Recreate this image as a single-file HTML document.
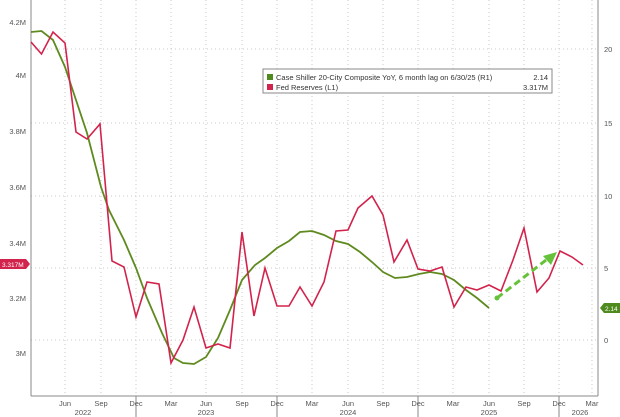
<!DOCTYPE html>
<html><head><meta charset="utf-8"><style>
html,body{margin:0;padding:0;background:#fff;}
svg{display:block;font-family:"Liberation Sans",sans-serif;}
</style></head><body>
<svg width="620" height="417" viewBox="0 0 620 417" xmlns="http://www.w3.org/2000/svg">
<rect width="620" height="417" fill="#fff"/>
<g stroke="#c8c8c8" stroke-width="1" stroke-dasharray="1,3">
<line x1="31" y1="49" x2="598" y2="49"/>
<line x1="31" y1="123" x2="598" y2="123"/>
<line x1="31" y1="196" x2="598" y2="196"/>
<line x1="31" y1="268" x2="598" y2="268"/>
<line x1="31" y1="340" x2="598" y2="340"/>
<line x1="65" y1="0" x2="65" y2="396"/>
<line x1="101" y1="0" x2="101" y2="396"/>
<line x1="136" y1="0" x2="136" y2="396"/>
<line x1="171" y1="0" x2="171" y2="396"/>
<line x1="206" y1="0" x2="206" y2="396"/>
<line x1="242" y1="0" x2="242" y2="396"/>
<line x1="277" y1="0" x2="277" y2="396"/>
<line x1="312" y1="0" x2="312" y2="396"/>
<line x1="348" y1="0" x2="348" y2="396"/>
<line x1="383" y1="0" x2="383" y2="396"/>
<line x1="418" y1="0" x2="418" y2="396"/>
<line x1="453" y1="0" x2="453" y2="396"/>
<line x1="489" y1="0" x2="489" y2="396"/>
<line x1="524" y1="0" x2="524" y2="396"/>
<line x1="559" y1="0" x2="559" y2="396"/>
<line x1="592" y1="0" x2="592" y2="396"/>
</g>
<g stroke="#888" stroke-width="1" fill="none">
<line x1="31" y1="0" x2="31" y2="396"/>
<line x1="598" y1="0" x2="598" y2="396"/>
<line x1="31" y1="396" x2="598" y2="396"/>
<line x1="136" y1="396" x2="136" y2="417"/>
<line x1="277" y1="396" x2="277" y2="417"/>
<line x1="418" y1="396" x2="418" y2="417"/>
<line x1="559" y1="396" x2="559" y2="417"/>
</g>
<g font-size="7.5" fill="#555" text-anchor="end">
<text x="26" y="25">4.2M</text>
<text x="26" y="78">4M</text>
<text x="26" y="134">3.8M</text>
<text x="26" y="190">3.6M</text>
<text x="26" y="246">3.4M</text>
<text x="26" y="301">3.2M</text>
<text x="26" y="356">3M</text>
</g>
<g font-size="7.5" fill="#555">
<text x="604" y="52">20</text>
<text x="604" y="126">15</text>
<text x="604" y="199">10</text>
<text x="604" y="271">5</text>
<text x="604" y="343">0</text>
</g>
<g font-size="7.5" fill="#555" text-anchor="middle">
<text x="65" y="406">Jun</text><text x="101" y="406">Sep</text><text x="136" y="406">Dec</text><text x="171" y="406">Mar</text>
<text x="206" y="406">Jun</text><text x="242" y="406">Sep</text><text x="277" y="406">Dec</text><text x="312" y="406">Mar</text>
<text x="348" y="406">Jun</text><text x="383" y="406">Sep</text><text x="418" y="406">Dec</text><text x="453" y="406">Mar</text>
<text x="489" y="406">Jun</text><text x="524" y="406">Sep</text><text x="559" y="406">Dec</text><text x="592" y="406">Mar</text>
<text x="83" y="415">2022</text><text x="206" y="415">2023</text><text x="348" y="415">2024</text><text x="489" y="415">2025</text><text x="580" y="415">2026</text>
</g>
<polyline fill="none" stroke="#5f8a1f" stroke-width="1.8" points="31,32 41.5,31 53,40 65,67 76,100 87,133 101,187 109,210 124,240 136,268 147,298 162,333 174,358 183,363 194,364 206,357 218,338 230,310 242,280 255,265 265,258 277,248 289,241 300,232 312,231 324,235 336,241 348,244 360,252 372,262 383,272 395,278 407,277 419,274 430,272 442,274 454,280 466,290 477,298 489,308"/>
<polyline fill="none" stroke="#d2234c" stroke-width="1.6" points="31,42 41.5,54 53,32 65,43 76,132 87,139 100,124 112,261 124,267 136,317 147,282 159,284 171,363 183,340 194,307 206,348 218,344 230,348 242,232 254,316 265,268 277,306 289,306 300,287 312,306 324,282 336,231 348,230 358,208 372,196 383,215 394,262 407,240 418,269 430,271 442,267 454,307 466,287 477,290 489,285 501,291 513,260 524,228 537,292 549,278 560,251 572,257 583,265"/>
<line x1="497" y1="298" x2="550" y2="257" stroke="#66c23a" stroke-width="3" stroke-dasharray="7,4"/>
<polygon points="557,252 543,256 551,265" fill="#66c23a"/>
<circle cx="497" cy="298" r="2.5" fill="#66c23a"/>
<rect x="263" y="69" width="289" height="24" fill="#fff" stroke="#888" stroke-width="1"/>
<rect x="267" y="74" width="6" height="6" fill="#4e8a1d"/>
<rect x="267" y="84" width="6" height="6" fill="#d2234c"/>
<g font-size="7.5" fill="#333">
<text x="276" y="80">Case Shiller 20-City Composite YoY, 6 month lag on 6/30/25 (R1)</text>
<text x="276" y="90">Fed Reserves (L1)</text>
<text x="548" y="80" text-anchor="end">2.14</text>
<text x="548" y="90" text-anchor="end">3.317M</text>
</g>
<path d="M0,259 H26 L30,264 L26,269 H0 Z" fill="#d2234c"/>
<text x="2" y="267" font-size="6.5" fill="#fff">3.317M</text>
<path d="M604,303 H620 V313 H604 L600,308 Z" fill="#4e8a1d"/>
<text x="605" y="311" font-size="6.5" fill="#fff">2.14</text>
</svg>
</body></html>
